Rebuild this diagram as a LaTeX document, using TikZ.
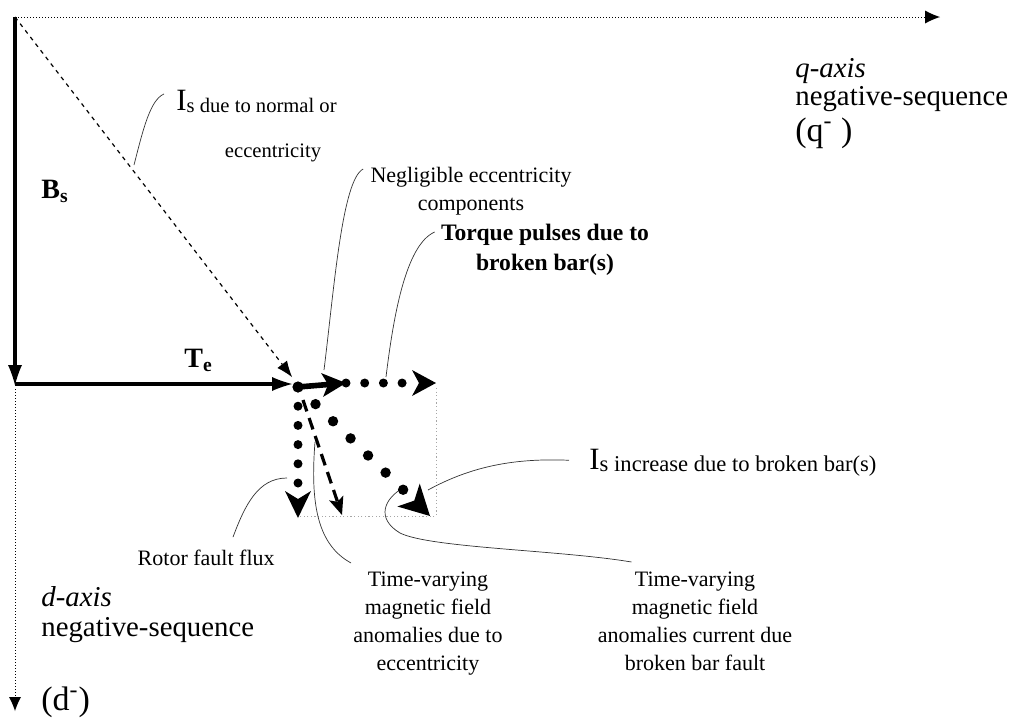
\documentclass[tikz,border=0pt]{standalone}
\usepackage{fontspec}
\setmainfont{Liberation Serif}
\usetikzlibrary{arrows.meta,positioning}

\tikzset{
  axisdot/.style={line width=0.5pt, dash pattern=on 0.5pt off 1pt},
  fieldvec/.style={line width=1.9pt, -{Latex[length=10pt,width=7pt,line width=0pt]}},
  isvec/.style={line width=0.6pt, dash pattern=on 2pt off 2.2pt, -{Latex[length=8pt,width=6pt,line width=0pt]}},
  fdots/.style={line width=4.5pt, line cap=round, dash pattern=on 0pt off #1},
  leader/.style={draw=black!80, line width=0.35pt},
  guide/.style={draw=black!35, line width=0.5pt, dash pattern=on 0.6pt off 1.2pt},
  axlbl/.style={inner sep=0pt, font=\fontsize{14.4}{14.4}\selectfont},
  seqlbl/.style={inner sep=0pt, font=\fontsize{17}{17}\selectfont},
  veclbl/.style={inner sep=0pt, font=\fontsize{14}{14}\selectfont\bfseries},
  callout/.style={inner sep=0pt, align=center, font=\fontsize{11}{14}\selectfont},
  boldcallout/.style={inner sep=0pt, align=center, font=\fontsize{11.8}{15}\selectfont\bfseries},
  smalllbl/.style={inner sep=0pt, font=\fontsize{10.3}{10.3}\selectfont},
}
% big I with a long lowered subscript text
\newcommand{\Isub}[2]{{\fontsize{15.5}{15.5}\selectfont I}{\fontsize{#1}{#1}\selectfont\raisebox{-1pt}{#2}}}

\begin{document}
\begin{tikzpicture}[x=0.5pt,y=-0.5pt]
  \useasboundingbox (0,0) rectangle (1019,719);

  % axes and main vectors
  \coordinate (org) at (15,17);
  \coordinate (qend) at (940,17);
  \coordinate (dcorner) at (15,385);
  \coordinate (dfoot) at (15,389);
  \coordinate (dend) at (15,711);
  \coordinate (tetip) at (292,384);
  \coordinate (istip) at (292,377);

  % fault components around the tip of T_e
  \coordinate (O) at (298,387);
  \coordinate (negend) at (346,383);
  \coordinate (torqtip) at (436,383);
  \coordinate (rotortip) at (298,518);
  \coordinate (eccstart) at (303,400);
  \coordinate (ecctip) at (342,515);
  \coordinate (bbtip) at (430,516);

  % leader feet
  \coordinate (isfoot) at (134,165);
  \coordinate (negfoot) at (324,370);
  \coordinate (torqfoot) at (386,377);
  \coordinate (incfoot) at (428,490);
  \coordinate (rotfoot) at (287,478);
  \coordinate (eccfoot) at (315,442);
  \coordinate (bbfoot) at (403,488);

  \draw[guide] (436,388) -- (436,516) -- (300,516);

  \draw[axisdot, -{Latex[length=7.5pt,width=6.5pt,line width=0pt]}] (org) -- (qend);
  \draw[axisdot, -{Latex[length=7pt,width=6pt,line width=0pt]}] (dfoot) -- (dend);
  \draw[fieldvec] (org) -- (dcorner);
  \draw[fieldvec] (15,384) -- (tetip);
  \draw[isvec] (org) -- (istip);

  % labels
  \node[veclbl, anchor=base west] (bslbl) at (41,198) {B\textsubscript{s}};
  \node[veclbl, anchor=base west] (telbl) at (184,367) {T\textsubscript{e}};

  \node[axlbl, anchor=base west] (qax) at (795,77) {\textit{q-axis}};
  \node[axlbl, anchor=base west] (qneg) at (795,105) {negative-sequence};
  \node[seqlbl, anchor=base west] (qseq) at (795,141) {(q\textsuperscript{-}\ )};

  \node[axlbl, anchor=base west] (dax) at (41,606) {\textit{d-axis}};
  \node[axlbl, anchor=base west] (dneg) at (41,636) {negative-sequence};
  \node[seqlbl, anchor=base west] (dseq) at (41,710) {(d\textsuperscript{-})};

  \node[anchor=base west, inner sep=0pt] (isnorm) at (176,110) {\Isub{10.3}{s due to normal or}};
  \node[smalllbl, anchor=base] (isnormb) at (273,157) {eccentricity};
  \node[anchor=base west, inner sep=0pt] (isinc) at (589,469) {\Isub{11.3}{s increase due to broken bar(s)}};

  \node[callout, anchor=north] (neglbl) at (471,167) {Negligible eccentricity\\components};
  \node[boldcallout, anchor=north] (torque) at (545,224) {Torque pulses due to\\broken bar(s)};
  \node[callout, anchor=base east] (rotor) at (275,565) {Rotor fault flux};
  \node[callout, anchor=north] (eccfield) at (428,572) {Time-varying\\magnetic field\\anomalies due to\\eccentricity};
  \node[callout, anchor=north] (bbfield) at (695,572) {Time-varying\\magnetic field\\anomalies current due\\broken bar fault};

  % leaders
  \draw[leader] (isfoot) .. controls (143,130) and (150,100) .. ([xshift=-6pt,yshift=3.5pt]isnorm.west);
  \draw[leader] (negfoot) .. controls (334,290) and (342,180) .. ([xshift=-3.5pt,yshift=-1pt]neglbl.north west);
  \draw[leader] (torqfoot) .. controls (393,320) and (405,245) .. ([xshift=-3pt,yshift=-4pt]torque.north west);
  \draw[leader] (incfoot) .. controls (472,466) and (515,458) .. ([xshift=-10pt,yshift=1pt]isinc.west);
  \draw[leader] ([xshift=-21pt,yshift=6pt]rotor.north east) .. controls (245,505) and (258,478) .. (rotfoot);
  \draw[leader] (eccfoot) .. controls (310,505) and (318,545) .. ([xshift=-1pt,yshift=4.5pt]eccfield.north west);
  \draw[leader] (bbfoot) .. controls (385,498) and (375,518) .. (400,533)
    .. controls (430,548) and (560,550) .. ([xshift=17pt,yshift=5pt]bbfield.north west);

  % fault vectors
  \draw[fdots=9.35pt, -{Stealth[length=12pt,width=13pt,inset=3.5pt,line width=0pt]}] (negend) -- (torqtip);
  \draw[fdots=9.6pt, -{Stealth[length=13.5pt,width=13pt,inset=4pt,line width=0pt]}] (O) -- (rotortip);
  \draw[fdots=12.25pt, line width=5.2pt, -{Stealth[length=15pt,width=16pt,inset=4pt,line width=0pt]}] (O) -- (bbtip);
  \draw[line width=1.6pt, dash pattern=on 6pt off 3.5pt, -{Stealth[length=9pt,width=7.5pt,inset=2pt,line width=0pt]}] (eccstart) -- (ecctip);
  \draw[line width=2.8pt, -{Stealth[length=12pt,width=12pt,inset=3pt,line width=0pt]}] (O) -- (negend);
  \fill (O) circle[radius=2.8pt];
\end{tikzpicture}
\end{document}
